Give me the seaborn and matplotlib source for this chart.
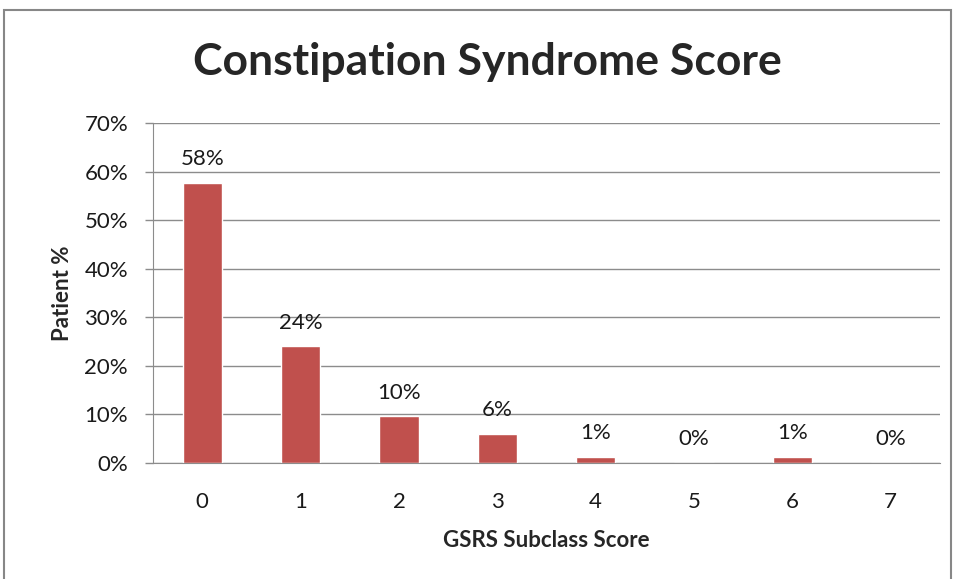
import matplotlib
matplotlib.use("Agg")
import matplotlib.pyplot as plt
import matplotlib.ticker as mticker
import pandas as pd
import seaborn as sns

scores = ["0", "1", "2", "3", "4", "5", "6", "7"]
patient_pct = [57.6, 24.0, 9.6, 6.0, 1.2, 0.0, 1.2, 0.0]
bar_labels = ["58%", "24%", "10%", "6%", "1%", "0%", "1%", "0%"]

df = pd.DataFrame({"score": scores, "pct": patient_pct})

sns.set_style("white")
plt.rcParams["font.family"] = ["Lato", "DejaVu Sans"]

fig = plt.figure(figsize=(9.57, 5.79), dpi=100)
ax = fig.add_axes([0.160, 0.2003, 0.822, 0.5873])

# outer chart border, like the spreadsheet frame
fig.patches.append(plt.Rectangle((0.004, -0.01), 0.99, 0.992, transform=fig.transFigure,
                                 fill=False, edgecolor="#878787", linewidth=1.5))

sns.barplot(data=df, x="score", y="pct", color="#C0504D", saturation=1, width=0.4, ax=ax)
ax.bar_label(ax.containers[0], labels=bar_labels, padding=10, fontsize=16, color="#1a1a1a")

ax.set_ylim(0, 70)
ax.set_xlim(-0.5, 7.5)
ax.yaxis.set_major_locator(mticker.MultipleLocator(10))
ax.yaxis.set_major_formatter(mticker.FormatStrFormatter("%d%%"))
ax.grid(axis="y", color="#8c8c8c", linewidth=1)
ax.set_axisbelow(True)

for s in ["top", "right"]:
    ax.spines[s].set_visible(False)
ax.spines["left"].set_color("#8c8c8c")
ax.spines["bottom"].set_color("#8c8c8c")

ax.tick_params(axis="y", length=6, width=1, color="#8c8c8c", pad=12, labelsize=16, labelcolor="#1a1a1a", left=True)
ax.tick_params(axis="x", length=0, pad=21, labelsize=16, labelcolor="#1a1a1a")

ax.set_xlabel("GSRS Subclass Score", fontsize=16, fontweight="bold", labelpad=13)
ax.set_ylabel("Patient %", fontsize=16, fontweight="bold", labelpad=8)
fig.suptitle("Constipation Syndrome Score", fontsize=32, fontweight="bold", x=0.509, y=0.927)

fig.savefig("out.png", dpi=100)
